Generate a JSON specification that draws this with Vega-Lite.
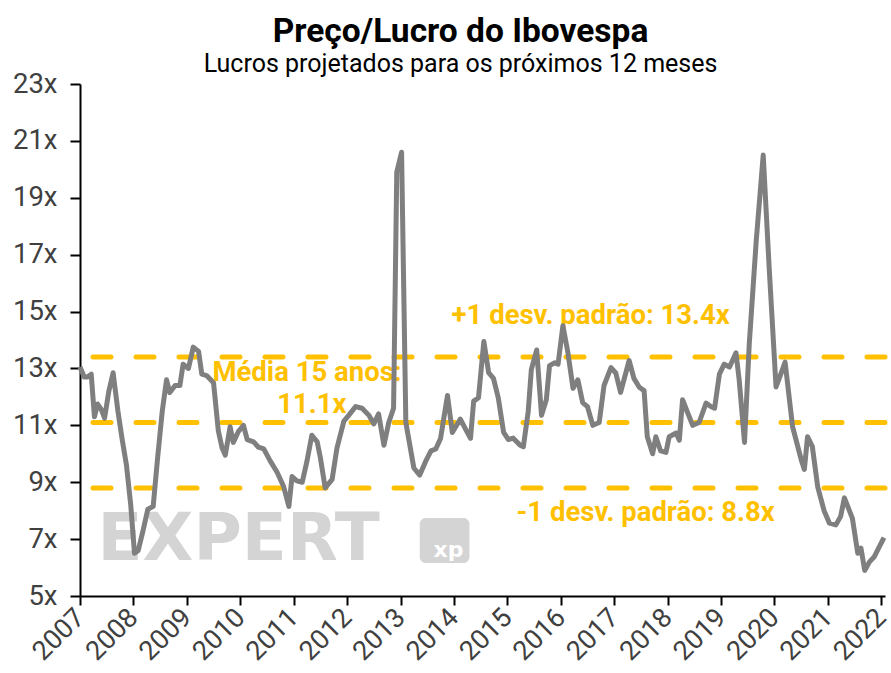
{
  "$schema": "https://vega.github.io/schema/vega-lite/v6.json",
  "autosize": {"type": "none"},
  "width": 805,
  "height": 512,
  "padding": {"left": 80, "top": 84, "right": 6, "bottom": 77},
  "background": "white",
  "title": {
    "text": "Preço/Lucro do Ibovespa",
    "subtitle": "Lucros projetados para os próximos 12 meses",
    "anchor": "middle",
    "frame": "group",
    "dx": -22,
    "offset": -8,
    "font": "Roboto",
    "fontSize": 33.5,
    "fontWeight": "bold",
    "color": "#000000",
    "subtitleFont": "Roboto",
    "subtitleFontSize": 25,
    "subtitleColor": "#000000",
    "subtitlePadding": 3
  },
  "datasets": {
    "pl": [
      {"ano": 2007.00, "pe": 13.05}, {"ano": 2007.08, "pe": 12.7}, {"ano": 2007.14, "pe": 12.7}, {"ano": 2007.21, "pe": 12.8},
      {"ano": 2007.27, "pe": 11.3}, {"ano": 2007.33, "pe": 11.75}, {"ano": 2007.40, "pe": 11.55}, {"ano": 2007.46, "pe": 11.25},
      {"ano": 2007.54, "pe": 12.2}, {"ano": 2007.62, "pe": 12.85}, {"ano": 2007.71, "pe": 11.5}, {"ano": 2007.79, "pe": 10.5},
      {"ano": 2007.87, "pe": 9.6}, {"ano": 2007.95, "pe": 8.2}, {"ano": 2008.02, "pe": 6.5}, {"ano": 2008.09, "pe": 6.6},
      {"ano": 2008.18, "pe": 7.3}, {"ano": 2008.27, "pe": 8.05}, {"ano": 2008.37, "pe": 8.15}, {"ano": 2008.45, "pe": 9.8},
      {"ano": 2008.54, "pe": 11.5}, {"ano": 2008.62, "pe": 12.6}, {"ano": 2008.68, "pe": 12.15}, {"ano": 2008.78, "pe": 12.4},
      {"ano": 2008.87, "pe": 12.4}, {"ano": 2008.93, "pe": 13.15}, {"ano": 2009.03, "pe": 13.0}, {"ano": 2009.12, "pe": 13.75},
      {"ano": 2009.22, "pe": 13.6}, {"ano": 2009.28, "pe": 12.8}, {"ano": 2009.37, "pe": 12.75}, {"ano": 2009.50, "pe": 12.5},
      {"ano": 2009.59, "pe": 10.8}, {"ano": 2009.66, "pe": 10.2}, {"ano": 2009.72, "pe": 9.95}, {"ano": 2009.81, "pe": 10.95},
      {"ano": 2009.87, "pe": 10.4}, {"ano": 2009.97, "pe": 10.8}, {"ano": 2010.06, "pe": 11.0}, {"ano": 2010.13, "pe": 10.5},
      {"ano": 2010.25, "pe": 10.42}, {"ano": 2010.34, "pe": 10.23}, {"ano": 2010.44, "pe": 10.17}, {"ano": 2010.56, "pe": 9.75},
      {"ano": 2010.69, "pe": 9.35}, {"ano": 2010.81, "pe": 8.86}, {"ano": 2010.91, "pe": 8.15}, {"ano": 2010.97, "pe": 9.2},
      {"ano": 2011.06, "pe": 9.05}, {"ano": 2011.16, "pe": 9.0}, {"ano": 2011.25, "pe": 9.75}, {"ano": 2011.34, "pe": 10.65},
      {"ano": 2011.44, "pe": 10.42}, {"ano": 2011.50, "pe": 9.86}, {"ano": 2011.59, "pe": 8.8}, {"ano": 2011.72, "pe": 9.1},
      {"ano": 2011.81, "pe": 10.2}, {"ano": 2011.94, "pe": 11.15}, {"ano": 2012.03, "pe": 11.35}, {"ano": 2012.16, "pe": 11.66},
      {"ano": 2012.28, "pe": 11.6}, {"ano": 2012.41, "pe": 11.35}, {"ano": 2012.50, "pe": 11.05}, {"ano": 2012.59, "pe": 11.4},
      {"ano": 2012.69, "pe": 10.3}, {"ano": 2012.78, "pe": 11.1}, {"ano": 2012.87, "pe": 11.6}, {"ano": 2012.93, "pe": 19.9},
      {"ano": 2013.02, "pe": 20.6}, {"ano": 2013.10, "pe": 11.1}, {"ano": 2013.25, "pe": 9.5}, {"ano": 2013.36, "pe": 9.25},
      {"ano": 2013.47, "pe": 9.73}, {"ano": 2013.57, "pe": 10.1}, {"ano": 2013.66, "pe": 10.17}, {"ano": 2013.75, "pe": 10.54},
      {"ano": 2013.88, "pe": 12.05}, {"ano": 2013.97, "pe": 10.75}, {"ano": 2014.12, "pe": 11.22}, {"ano": 2014.25, "pe": 10.75},
      {"ano": 2014.31, "pe": 10.54}, {"ano": 2014.37, "pe": 11.85}, {"ano": 2014.46, "pe": 11.97}, {"ano": 2014.56, "pe": 13.95},
      {"ano": 2014.65, "pe": 12.85}, {"ano": 2014.74, "pe": 12.65}, {"ano": 2014.83, "pe": 11.97}, {"ano": 2014.93, "pe": 10.75},
      {"ano": 2015.02, "pe": 10.5}, {"ano": 2015.11, "pe": 10.55}, {"ano": 2015.24, "pe": 10.3}, {"ano": 2015.30, "pe": 10.25},
      {"ano": 2015.39, "pe": 11.47}, {"ano": 2015.45, "pe": 12.97}, {"ano": 2015.55, "pe": 13.65}, {"ano": 2015.64, "pe": 11.35},
      {"ano": 2015.73, "pe": 11.9}, {"ano": 2015.79, "pe": 13.1}, {"ano": 2015.89, "pe": 13.2}, {"ano": 2015.95, "pe": 13.15},
      {"ano": 2016.04, "pe": 14.5}, {"ano": 2016.13, "pe": 13.6}, {"ano": 2016.23, "pe": 12.3}, {"ano": 2016.32, "pe": 12.6},
      {"ano": 2016.41, "pe": 11.8}, {"ano": 2016.50, "pe": 11.66}, {"ano": 2016.60, "pe": 11.0}, {"ano": 2016.72, "pe": 11.1},
      {"ano": 2016.81, "pe": 12.4}, {"ano": 2016.94, "pe": 13.03}, {"ano": 2017.03, "pe": 12.84}, {"ano": 2017.12, "pe": 12.16},
      {"ano": 2017.28, "pe": 13.28}, {"ano": 2017.37, "pe": 12.65}, {"ano": 2017.47, "pe": 12.34}, {"ano": 2017.56, "pe": 12.22},
      {"ano": 2017.62, "pe": 10.6}, {"ano": 2017.72, "pe": 10.0}, {"ano": 2017.78, "pe": 10.6}, {"ano": 2017.87, "pe": 10.1},
      {"ano": 2017.97, "pe": 10.05}, {"ano": 2018.03, "pe": 10.6}, {"ano": 2018.16, "pe": 10.73}, {"ano": 2018.22, "pe": 10.48},
      {"ano": 2018.28, "pe": 11.9}, {"ano": 2018.37, "pe": 11.47}, {"ano": 2018.47, "pe": 11.0}, {"ano": 2018.59, "pe": 11.1},
      {"ano": 2018.72, "pe": 11.78}, {"ano": 2018.81, "pe": 11.66}, {"ano": 2018.88, "pe": 11.6}, {"ano": 2018.97, "pe": 12.8},
      {"ano": 2019.06, "pe": 13.15}, {"ano": 2019.16, "pe": 13.05}, {"ano": 2019.28, "pe": 13.55}, {"ano": 2019.34, "pe": 12.6},
      {"ano": 2019.44, "pe": 10.4}, {"ano": 2019.53, "pe": 13.9}, {"ano": 2019.66, "pe": 17.5}, {"ano": 2019.79, "pe": 20.5},
      {"ano": 2019.90, "pe": 16.6}, {"ano": 2020.03, "pe": 12.35}, {"ano": 2020.09, "pe": 12.65}, {"ano": 2020.20, "pe": 13.22},
      {"ano": 2020.34, "pe": 10.95}, {"ano": 2020.50, "pe": 9.8}, {"ano": 2020.56, "pe": 9.45}, {"ano": 2020.62, "pe": 10.6},
      {"ano": 2020.71, "pe": 10.25}, {"ano": 2020.81, "pe": 8.84}, {"ano": 2020.93, "pe": 8.0}, {"ano": 2021.03, "pe": 7.56},
      {"ano": 2021.15, "pe": 7.5}, {"ano": 2021.24, "pe": 7.8}, {"ano": 2021.31, "pe": 8.45}, {"ano": 2021.46, "pe": 7.73},
      {"ano": 2021.56, "pe": 6.5}, {"ano": 2021.62, "pe": 6.68}, {"ano": 2021.69, "pe": 5.9}, {"ano": 2021.78, "pe": 6.2},
      {"ano": 2021.87, "pe": 6.38}, {"ano": 2022.05, "pe": 7.05}
    ],
    "refs": [{"pe": 13.4}, {"pe": 11.1}, {"pe": 8.8}],
    "one": [{}]
  },
  "layer": [
    {
      "data": {"name": "one"},
      "mark": {"type": "text", "text": "EXPERT", "font": "DejaVu Sans", "fontWeight": "bold", "fontSize": 66, "color": "#d4d4d4", "align": "center", "baseline": "middle"},
      "encoding": {
        "x": {"datum": 2009.97, "type": "quantitative", "title": null},
        "y": {"datum": 6.97, "type": "quantitative", "title": null}
      }
    },
    {
      "data": {"name": "one"},
      "mark": {"type": "rect", "color": "#d4d4d4", "cornerRadius": 6},
      "encoding": {
        "x": {"datum": 2013.36, "type": "quantitative", "title": null},
        "x2": {"datum": 2014.29},
        "y": {"datum": 7.74, "type": "quantitative", "title": null},
        "y2": {"datum": 6.16}
      }
    },
    {
      "data": {"name": "one"},
      "mark": {"type": "text", "text": "xp", "font": "DejaVu Sans", "fontWeight": "bold", "fontSize": 22, "color": "#ffffff", "align": "center", "baseline": "middle"},
      "encoding": {
        "x": {"datum": 2013.9, "type": "quantitative", "title": null},
        "y": {"datum": 6.62, "type": "quantitative", "title": null}
      }
    },
    {
      "data": {"name": "refs"},
      "mark": {"type": "rule", "color": "#FFC000", "strokeWidth": 5, "strokeDash": [18, 25], "strokeCap": "round"},
      "encoding": {
        "y": {"field": "pe", "type": "quantitative", "title": null}
      }
    },
    {
      "data": {"name": "one"},
      "mark": {"type": "text", "text": "+1 desv. padrão: 13.4x", "font": "Roboto", "fontWeight": "bold", "fontSize": 27.5, "color": "#FFC000", "align": "center", "baseline": "middle"},
      "encoding": {
        "x": {"datum": 2016.56, "type": "quantitative", "title": null},
        "y": {"datum": 14.85, "type": "quantitative", "title": null}
      }
    },
    {
      "data": {"name": "one"},
      "mark": {"type": "text", "text": "Média 15 anos:", "font": "Roboto", "fontWeight": "bold", "fontSize": 27.5, "color": "#FFC000", "align": "center", "baseline": "middle"},
      "encoding": {
        "x": {"datum": 2011.25, "type": "quantitative", "title": null},
        "y": {"datum": 12.84, "type": "quantitative", "title": null}
      }
    },
    {
      "data": {"name": "one"},
      "mark": {"type": "text", "text": "11.1x", "font": "Roboto", "fontWeight": "bold", "fontSize": 27.5, "color": "#FFC000", "align": "center", "baseline": "middle"},
      "encoding": {
        "x": {"datum": 2011.34, "type": "quantitative", "title": null},
        "y": {"datum": 11.72, "type": "quantitative", "title": null}
      }
    },
    {
      "data": {"name": "one"},
      "mark": {"type": "text", "text": "-1 desv. padrão: 8.8x", "font": "Roboto", "fontWeight": "bold", "fontSize": 27.5, "color": "#FFC000", "align": "center", "baseline": "middle"},
      "encoding": {
        "x": {"datum": 2017.59, "type": "quantitative", "title": null},
        "y": {"datum": 7.92, "type": "quantitative", "title": null}
      }
    },
    {
      "data": {"name": "pl"},
      "mark": {"type": "line", "color": "#7f7f7f", "strokeWidth": 5, "strokeJoin": "round"},
      "encoding": {
        "x": {
          "field": "ano", "type": "quantitative", "title": null,
          "scale": {"domain": [2007, 2022.07], "nice": false, "zero": false},
          "axis": {
            "values": [2007, 2008, 2009, 2010, 2011, 2012, 2013, 2014, 2015, 2016, 2017, 2018, 2019, 2020, 2021, 2022],
            "format": "d", "labelAngle": -45, "labelAlign": "right", "labelBaseline": "middle",
            "labelFont": "Roboto", "labelFontSize": 27, "labelColor": "#404040", "labelPadding": 8,
            "tickSize": 9, "tickWidth": 2, "tickColor": "#000000", "domainColor": "#000000", "domainWidth": 2,
            "grid": false, "labelOverlap": false, "labelFlush": false
          }
        },
        "y": {
          "field": "pe", "type": "quantitative", "title": null,
          "scale": {"domain": [5, 23], "nice": false, "zero": false},
          "axis": {
            "values": [5, 7, 9, 11, 13, 15, 17, 19, 21, 23],
            "labelExpr": "datum.value + 'x'",
            "labelFont": "Roboto", "labelFontSize": 27.5, "labelColor": "#404040", "labelPadding": 13,
            "tickSize": 10, "tickWidth": 2, "tickColor": "#000000", "domainColor": "#000000", "domainWidth": 2,
            "grid": false, "labelOverlap": false, "labelFlush": false
          }
        }
      }
    }
  ],
  "config": {"view": {"stroke": null}}
}
